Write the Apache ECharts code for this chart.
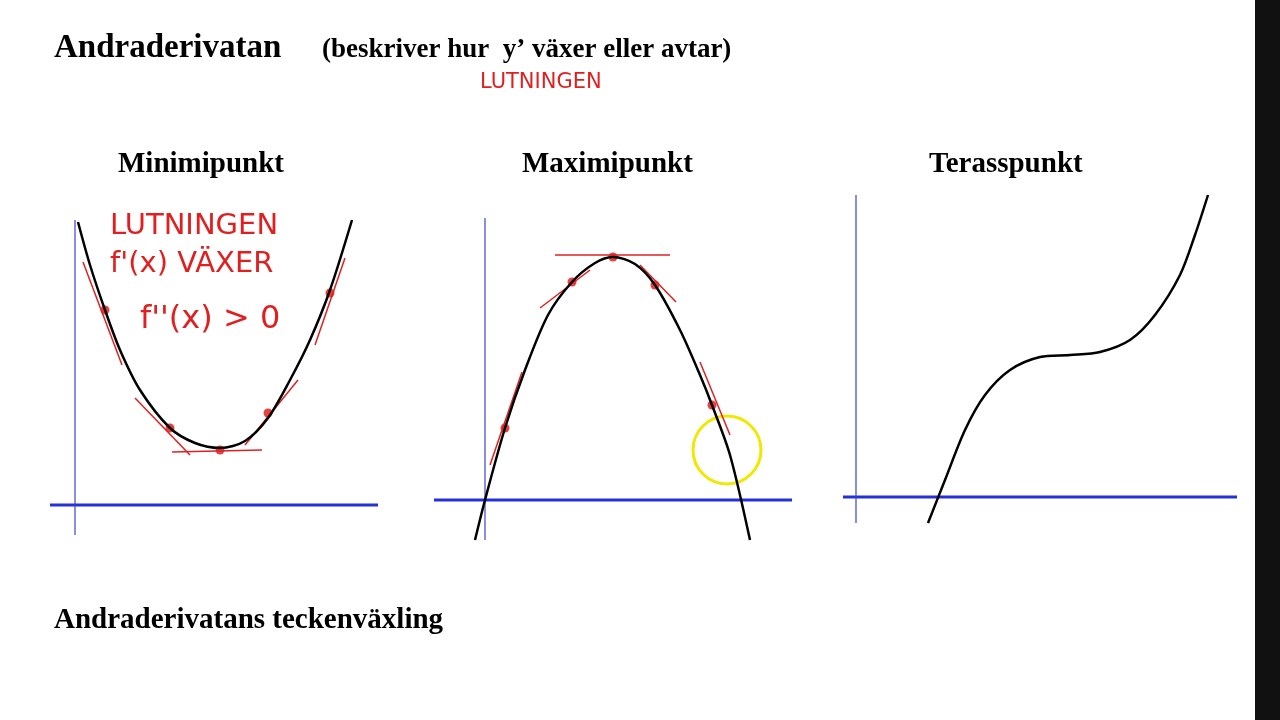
<!DOCTYPE html>
<html>
<head>
<meta charset="utf-8">
<style>
html, body { margin:0; padding:0; background:#fff; }
#main { width:1280px; height:720px; }
</style>
<script src="https://cdn.jsdelivr.net/npm/echarts@6/dist/echarts.min.js"></script>
</head>
<body>
<div id="main"></div>
<script>
// panel titles
var panelTitles = ['Minimipunkt', 'Maximipunkt', 'Terasspunkt'];

// curves (local units, origin where the axes cross)
var minCurve = [[0.06,5.66],[0.3,4.8],[0.6,3.9],[0.9,3.1],[1.3,2.3],[1.9,1.54],[2.4,1.24],[2.9,1.14],[3.4,1.28],[3.86,1.74],[4.3,2.5],[4.7,3.3],[5.1,4.3],[5.54,5.7]];
var maxCurve = [[-0.2,-0.8],[0,0],[0.4,1.44],[0.8,2.6],[1.26,3.7],[1.74,4.36],[2.2,4.74],[2.56,4.86],[3.0,4.72],[3.4,4.3],[3.9,3.4],[4.3,2.5],[4.54,1.9],[4.9,0.9],[5.3,-0.8]];
var terCurve = [[1.44,-0.52],[1.78,0.34],[2.18,1.34],[2.58,2.04],[3.08,2.54],[3.68,2.8],[4.28,2.84],[4.88,2.9],[5.48,3.14],[5.98,3.64],[6.48,4.44],[6.78,5.24],[7.04,6.04]];

// red tangent strokes and touch points
var minTangents = [[[0.16,4.86],[0.94,2.8]], [[1.2,2.14],[2.3,1.0]], [[1.94,1.06],[3.74,1.1]], [[3.4,1.2],[4.46,2.5]], [[4.8,3.2],[5.4,4.94]]];
var minDots = [[0.6,3.9],[1.9,1.54],[2.9,1.1],[3.86,1.84],[5.1,4.24]];
var maxTangents = [[[0.1,0.7],[0.74,2.56]], [[1.1,3.84],[2.1,4.6]], [[1.4,4.9],[3.7,4.9]], [[3.1,4.7],[3.82,3.96]], [[4.3,2.76],[4.9,1.3]]];
var maxDots = [[0.4,1.44],[1.74,4.36],[2.56,4.86],[3.4,4.3],[4.54,1.9]];

// axis extents per panel: [xmin, xmax, ymin, ymax] of the drawn axes
var axisExt = [[-0.5,6.06,-0.6,5.7], [-1.02,6.14,-0.8,5.64], [-0.26,7.62,-0.52,6.04]];

var grids = [
  {left:50, top:215, width:330, height:325, xr:[-0.5,6.1], yr:[-0.7,5.8]},
  {left:434, top:215, width:360, height:325, xr:[-1.02,6.18], yr:[-0.8,5.7]},
  {left:843, top:190, width:396, height:335, xr:[-0.26,7.66], yr:[-0.56,6.14]}
];

var chart = echarts.init(document.getElementById('main'));
var series = [];
var curves = [minCurve, maxCurve, terCurve];
var tangents = [minTangents, maxTangents, []];
var dots = [minDots, maxDots, []];

grids.forEach(function (g, i) {
  var e = axisExt[i];
  series.push({type:'line', xAxisIndex:i, yAxisIndex:i, data:[[e[0],0],[e[1],0]], symbol:'none', silent:true,
    lineStyle:{color:'#2430d8', width:3}});
  series.push({type:'line', xAxisIndex:i, yAxisIndex:i, data:[[0,e[2]],[0,e[3]]], symbol:'none', silent:true,
    lineStyle:{color:'#3a46c8', width:1.2}});
  tangents[i].forEach(function (t) {
    series.push({type:'line', xAxisIndex:i, yAxisIndex:i, data:t, symbol:'none', silent:true,
      lineStyle:{color:'#e02020', width:1.5}});
  });
  series.push({type:'line', xAxisIndex:i, yAxisIndex:i, data:curves[i], symbol:'none', smooth:0.3, silent:true,
    lineStyle:{color:'#000', width:2.5}});
  if (dots[i].length) {
    series.push({type:'scatter', xAxisIndex:i, yAxisIndex:i, data:dots[i], symbolSize:9, silent:true,
      itemStyle:{color:'#e41010'}});
  }
});

var handFont = '"DejaVu Sans", sans-serif';
var serif = '"Liberation Serif", "Times New Roman", serif';
var option = {
  backgroundColor:'#fff',
  animation:false,
  grid: grids.map(function (g) { return {left:g.left, top:g.top, width:g.width, height:g.height}; }),
  xAxis: grids.map(function (g, i) { return {type:'value', gridIndex:i, min:g.xr[0], max:g.xr[1], show:false}; }),
  yAxis: grids.map(function (g, i) { return {type:'value', gridIndex:i, min:g.yr[0], max:g.yr[1], show:false}; }),
  series: series,
  graphic: [
    {type:'rect', shape:{x:1255, y:0, width:25, height:720}, style:{fill:'#111'}},
    {type:'text', left:54, top:32, style:{text:'Andraderivatan', font:'bold 33px ' + serif, fill:'#000'}},
    {type:'text', left:322, top:37, style:{text:'(beskriver hur  y\u2019 växer eller avtar)', font:'bold 27px ' + serif, fill:'#000'}},
    {type:'text', left:480, top:72, style:{text:'LUTNINGEN', font:'21px ' + handFont, fill:'#e02020'}},
    {type:'text', left:118, top:150, style:{text:panelTitles[0], font:'bold 29px ' + serif, fill:'#000'}},
    {type:'text', left:522, top:150, style:{text:panelTitles[1], font:'bold 29px ' + serif, fill:'#000'}},
    {type:'text', left:929, top:150, style:{text:panelTitles[2], font:'bold 29px ' + serif, fill:'#000'}},
    {type:'text', left:110, top:212, style:{text:'LUTNINGEN', font:'29px ' + handFont, fill:'#e02020'}},
    {type:'text', left:110, top:250, style:{text:'f\'(x) VÄXER', font:'29px ' + handFont, fill:'#e02020'}},
    {type:'text', left:140, top:304, style:{text:'f\'\'(x) > 0', font:'32px ' + handFont, fill:'#e02020'}},
    {type:'circle', shape:{cx:727, cy:450, r:34}, style:{fill:'none', stroke:'#f0e800', lineWidth:3}},
    {type:'text', left:54, top:606, style:{text:'Andraderivatans teckenväxling', font:'bold 29px ' + serif, fill:'#000'}}
  ]
};
chart.setOption(option);
</script>
</body>
</html>
